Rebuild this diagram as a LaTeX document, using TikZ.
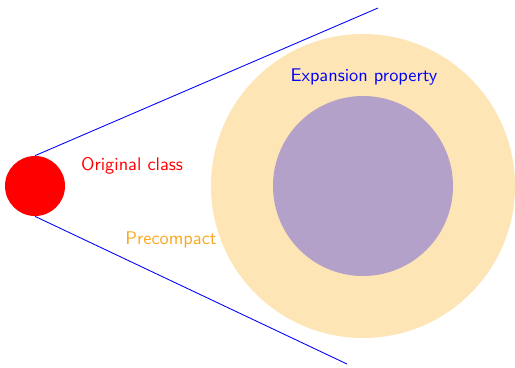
\documentclass[tikz,border=0pt]{standalone}
\definecolor{bigfill}{RGB}{253,229,182}
\definecolor{smallfill}{RGB}{179,161,202}
\definecolor{orangetext}{RGB}{250,168,30}
\begin{document}
\begin{tikzpicture}[x=0.575pt,y=-0.575pt,font=\sffamily\fontsize{10.55}{12}\selectfont,
  line/.style={blue, line width=0.5pt}]
\useasboundingbox (0,0) rectangle (515,367);
\fill[bigfill] (363,186) circle (152);
\fill[smallfill] (363,186) circle (90);
\node[circle, fill=red, minimum size=60*0.575pt, inner sep=0pt] (orig) at (35,186) {};
\coordinate (t1) at (378,8);
\coordinate (t2) at (347,364);
\draw[line] (orig.north) -- (t1);
\draw[line] (orig.south) -- (t2);
\node[blue] (exp) at (364,77) {Expansion property};
\node[red] (oc) at (132,166) {Original class};
\node[text=orangetext] (pc) at (171,240) {Precompact};
\end{tikzpicture}
\end{document}
